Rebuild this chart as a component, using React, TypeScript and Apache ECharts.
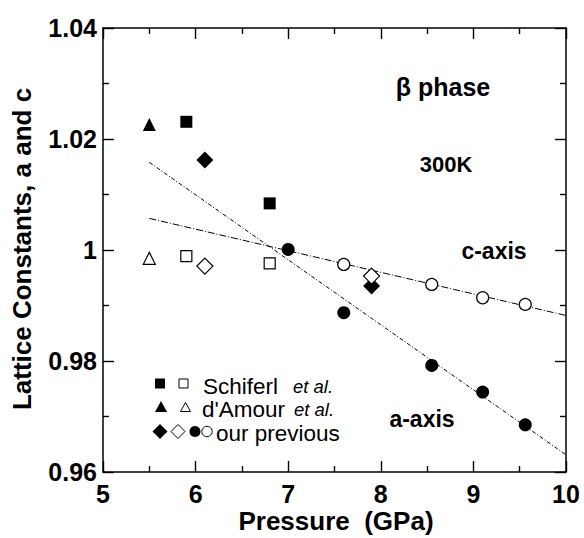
import React, { useEffect, useRef } from "react";
import * as echarts from "echarts";

// ---- data ----
const schiferlA: number[][] = [[5.9, 1.0231], [6.8, 1.0084]];
const schiferlC: number[][] = [[5.9, 0.9989], [6.8, 0.9976]];
const damourA: number[][] = [[5.5, 1.0226]];
const damourC: number[][] = [[5.5, 0.9985]];
const prevDiamondA: number[][] = [[6.1, 1.0162], [7.9, 0.9935]];
const prevDiamondC: number[][] = [[6.1, 0.9971], [7.9, 0.9953]];
const prevCircleA: number[][] = [[7.0, 1.0001], [7.6, 0.9887], [8.55, 0.9792], [9.1, 0.9744], [9.56, 0.9685]];
const prevCircleC: number[][] = [[7.6, 0.9974], [8.55, 0.9938], [9.1, 0.9914], [9.56, 0.9902]];
const fitA: number[][] = [[5.5, 1.0158], [10, 0.9631]];
const fitC: number[][] = [[5.5, 1.0057], [10, 0.9882]];

const xTickLabels: string[] = ["5", "6", "7", "8", "9", "10"];
const yTickValues: number[] = [0.96, 0.98, 1.0, 1.02, 1.04];
const yTickLabels: string[] = ["0.96", "0.98", "1", "1.02", "1.04"];

const X_MIN = 5, X_MAX = 10, Y_MIN = 0.96, Y_MAX = 1.04;
const GRID = { left: 103, top: 28, width: 463, height: 444 };
const FONT = "'Liberation Sans', Arial, Helvetica, sans-serif";

function makeAxis(kind: "x" | "y", position: string, showLabel: boolean) {
  const isX = kind === "x";
  return {
    type: "value",
    position,
    min: isX ? X_MIN : Y_MIN,
    max: isX ? X_MAX : Y_MAX,
    interval: isX ? 1 : 0.02,
    axisLine: { show: true, onZero: false, lineStyle: { color: "#000", width: 1.5 } },
    axisTick: { show: true, inside: true, length: 11, lineStyle: { color: "#000", width: 1.4 } },
    minorTick: { show: true, splitNumber: 2, length: 6, lineStyle: { color: "#000", width: 1.4 } },
    splitLine: { show: false },
    minorSplitLine: { show: false },
    axisLabel: showLabel
      ? {
          show: true,
          margin: isX ? 9 : 6,
          color: "#000",
          fontSize: 25,
          fontWeight: "bold",
          fontFamily: FONT,
          formatter: isX
            ? (v: number) => xTickLabels[Math.round(v - X_MIN)] ?? ""
            : (v: number) => {
                const i = yTickValues.findIndex((t) => Math.abs(t - v) < 1e-6);
                return i >= 0 ? yTickLabels[i] : "";
              },
        }
      : { show: false },
  };
}

export default function App() {
  const ref = useRef<HTMLDivElement>(null);
  useEffect(() => {
    if (!ref.current) return;
    const chart = echarts.init(ref.current, undefined, { renderer: "svg" });

    const filled = (symbol: string, size: number | number[], data: number[][]) => ({
      type: "scatter",
      data,
      symbol,
      symbolSize: size,
      itemStyle: { color: "#000", borderColor: "#000", borderWidth: 0, opacity: 1 },
      z: 5,
    });
    const open = (symbol: string, size: number | number[], data: number[][]) => ({
      type: "scatter",
      data,
      symbol,
      symbolSize: size,
      itemStyle: { color: "#fff", borderColor: "#000", borderWidth: 1.2, opacity: 1 },
      z: 5,
    });

    const txt = (text: string, x: number, y: number, size: number, extra: any = {}) => ({
      type: "text",
      x,
      y,
      style: {
        text,
        fill: "#000",
        font: `${extra.italic ? "italic " : ""}${extra.bold === false ? "normal" : "bold"} ${size}px ${FONT}`,
        align: extra.align || "center",
        verticalAlign: "middle",
      },
      rotation: extra.rotation || 0,
      z: 10,
    });

    const legendShapes = [
      { type: "rect", shape: { x: 155, y: 378.5, width: 10, height: 10 }, style: { fill: "#000" } },
      { type: "rect", shape: { x: 179, y: 379, width: 9, height: 9 }, style: { fill: "#fff", stroke: "#000", lineWidth: 1 } },
      { type: "polygon", shape: { points: [[161, 401], [167, 412], [155, 412]] }, style: { fill: "#000" } },
      { type: "polygon", shape: { points: [[185.5, 402.5], [190.5, 411.5], [180.5, 411.5]] }, style: { fill: "#fff", stroke: "#000", lineWidth: 1 } },
      { type: "polygon", shape: { points: [[160, 424], [167.5, 431.5], [160, 439], [152.5, 431.5]] }, style: { fill: "#000" } },
      { type: "polygon", shape: { points: [[178, 424.5], [185, 431.5], [178, 438.5], [171, 431.5]] }, style: { fill: "#fff", stroke: "#000", lineWidth: 1 } },
      { type: "circle", shape: { cx: 195, cy: 431.5, r: 5.5 }, style: { fill: "#000" } },
      { type: "circle", shape: { cx: 207, cy: 431.5, r: 5.2 }, style: { fill: "#fff", stroke: "#000", lineWidth: 1 } },
    ].map((g) => ({ ...g, z: 10 }));

    const texts = [
      txt("Pressure  (GPa)", 336, 521, 26),
      txt("Lattice Constants, a and c", 22, 249, 26, { rotation: Math.PI / 2 }),
      txt("β phase", 443, 87, 25),
      txt("300K", 446, 164, 22),
      txt("c-axis", 494, 251, 23),
      txt("a-axis", 422, 419, 23),
      txt("Schiferl", 203, 386, 22.5, { bold: false, align: "left" }),
      txt("et al.", 293, 386, 18.5, { bold: false, italic: true, align: "left" }),
      txt("d'Amour", 202, 409, 22.5, { bold: false, align: "left" }),
      txt("et al.", 294, 409, 18.5, { bold: false, italic: true, align: "left" }),
      txt("our previous", 216, 433, 22.5, { bold: false, align: "left" }),
    ];

    chart.setOption({
      animation: false,
      backgroundColor: "#fff",
      grid: { ...GRID },
      xAxis: [makeAxis("x", "bottom", true), makeAxis("x", "top", false)],
      yAxis: [makeAxis("y", "left", true), makeAxis("y", "right", false)],
      series: [
        {
          type: "line",
          data: fitA,
          symbol: "none",
          lineStyle: { color: "#000", width: 1, type: [4, 2, 1, 2] },
          z: 3,
        },
        {
          type: "line",
          data: fitC,
          symbol: "none",
          lineStyle: { color: "#000", width: 1, type: [7, 2, 1, 2] },
          z: 3,
        },
        filled("rect", 12, schiferlA),
        open("rect", 11, schiferlC),
        filled("triangle", 13, damourA),
        open("triangle", 12, damourC),
        filled("diamond", [17, 17], prevDiamondA),
        open("diamond", [16, 16], prevDiamondC),
        filled("circle", 13, prevCircleA),
        open("circle", 12, prevCircleC),
      ],
      graphic: [...texts, ...legendShapes],
    });

    return () => chart.dispose();
  }, []);
  return <div ref={ref} style={{ position: "fixed", left: 0, top: 0, width: 584, height: 538 }} />;
}
